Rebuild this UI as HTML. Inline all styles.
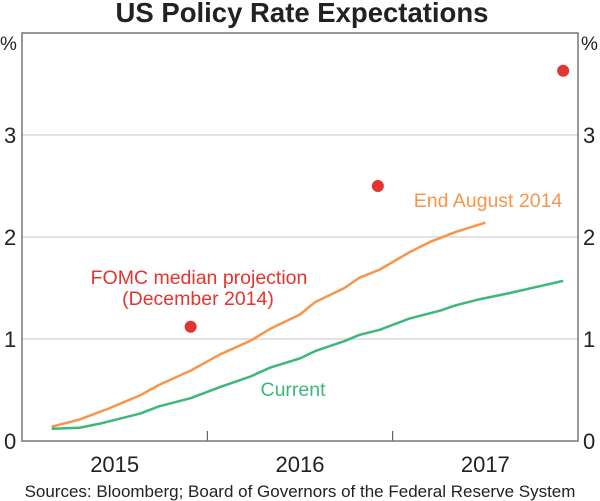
<!DOCTYPE html>
<html><head><meta charset="utf-8"><style>
body{margin:0;background:#fff}
svg{display:block;font-family:"Liberation Sans",Arial,sans-serif}
</style></head><body>
<svg id="chart" width="600" height="501">
<text x="302" y="22" text-anchor="middle" font-size="27.5" font-weight="bold" fill="#222">US Policy Rate Expectations</text>
<g id="grid"></g>
<g id="ticks"></g>
<rect x="22" y="33" width="556" height="408" fill="none" stroke="#777" stroke-width="1.5"/>
<text x="0" y="50" font-size="19" fill="#222">%</text>
<text x="581" y="50" font-size="19" fill="#222">%</text>
<g id="series"></g>
<text x="199" y="284" text-anchor="middle" font-size="19.5" fill="#e3342f">FOMC median projection</text>
<text x="198" y="305" text-anchor="middle" font-size="19.5" fill="#e3342f">(December 2014)</text>
<text x="488" y="207" text-anchor="middle" font-size="19.5" fill="#f7964a">End August 2014</text>
<text x="293" y="396" text-anchor="middle" font-size="19.5" fill="#3cb878">Current</text>
<text x="300" y="497" text-anchor="middle" font-size="17" fill="#222">Sources:  Bloomberg; Board of Governors of the Federal Reserve System</text>
</svg>
<script>
const yTicks=[0,1,2,3];
const years=["2015","2016","2017"];
const orangeX=[2015.16,2015.31,2015.47,2015.64,2015.74,2015.91,2016.07,2016.23,2016.34,2016.5,2016.58,2016.74,2016.82,2016.93,2017.09,2017.2,2017.34,2017.5];
const orangeY=[0.14,0.21,0.32,0.45,0.55,0.69,0.85,0.98,1.1,1.24,1.36,1.5,1.6,1.68,1.85,1.95,2.05,2.14];
const greenX=[2015.16,2015.31,2015.42,2015.64,2015.74,2015.91,2016.07,2016.23,2016.34,2016.5,2016.58,2016.74,2016.82,2016.93,2017.09,2017.26,2017.34,2017.47,2017.63,2017.8,2017.92];
const greenY=[0.12,0.13,0.17,0.27,0.34,0.42,0.53,0.63,0.72,0.81,0.88,0.98,1.04,1.09,1.2,1.28,1.33,1.39,1.45,1.52,1.57];
const dotX=[2015.91,2016.92,2017.92];
const dotY=[1.12,2.5,3.63];
const NS="http://www.w3.org/2000/svg";
const L=22,R=578,T=33,B=441;
const xs=v=>L+(v-2015)/3*(R-L);
const ys=v=>B-v/4*(B-T);
function mk(tag,attrs,parent){const e=document.createElementNS(NS,tag);for(const k in attrs)e.setAttribute(k,attrs[k]);parent.appendChild(e);return e;}
const grid=document.getElementById('grid'),ticks=document.getElementById('ticks'),series=document.getElementById('series');
yTicks.forEach(v=>{
  if(v>0){const g=mk('line',{x1:L,x2:R,y1:ys(v),y2:ys(v),stroke:'#d9d9d9','stroke-width':1.5},grid);
  
  }
  const a=mk('text',{x:4,y:ys(v)+8,'font-size':22,fill:'#222'},ticks);a.textContent=v;
  
  
  const b=mk('text',{x:583,y:ys(v)+8,'font-size':22,fill:'#222'},ticks);b.textContent=v;
  
  
});
years.forEach((y,i)=>{
  const yr=2015+i;
  if(i>0){const t=mk('line',{x1:xs(yr),x2:xs(yr),y1:B,y2:B-10,stroke:'#444','stroke-width':1},ticks);
  
  }
  const tx=mk('text',{x:xs(yr+0.5),y:472,'text-anchor':'middle','font-size':22,fill:'#222'},ticks);tx.textContent=y;
  
  
});
function line(X,Y,color,name){
  const p=mk('polyline',{points:X.map((x,i)=>xs(x)+','+ys(Y[i])).join(' '),fill:'none',stroke:color,'stroke-width':2.5,'stroke-linejoin':'round'},series);
  
  
}
line(orangeX,orangeY,'#f7964a','end-august-2014-line');
line(greenX,greenY,'#3cb878','current-line');
dotX.forEach((x,i)=>{
  const c=mk('circle',{cx:xs(x),cy:ys(dotY[i]),r:6,fill:'#e3342f'},series);
  
  
});
</script>
</body></html>
